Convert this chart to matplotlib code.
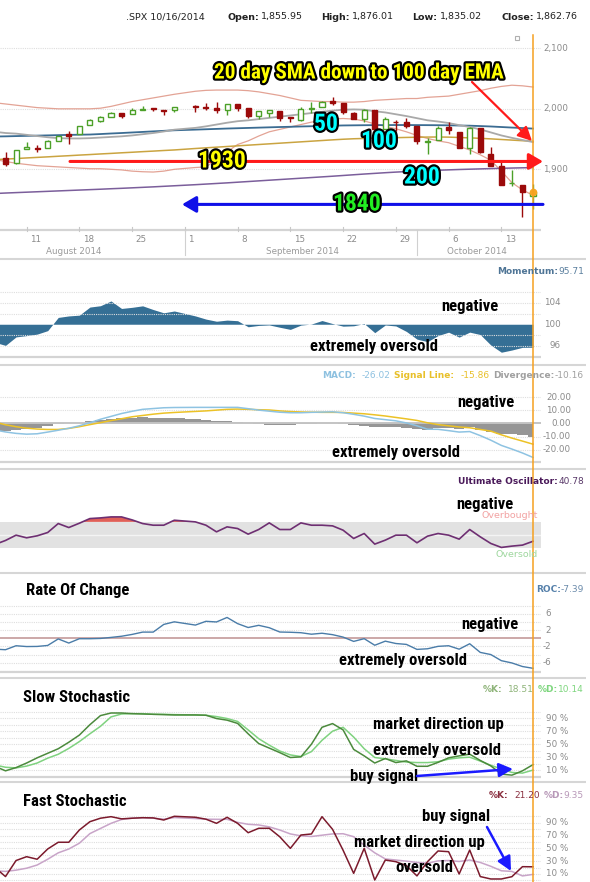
import numpy as np
import matplotlib
matplotlib.use("Agg")
import matplotlib.pyplot as plt
import matplotlib.patheffects as pe
from matplotlib.patches import Rectangle
from matplotlib import font_manager as fm

# ---------------- data ----------------
dates = ['2014-08-06', '2014-08-07', '2014-08-08',
         '2014-08-11', '2014-08-12', '2014-08-13', '2014-08-14', '2014-08-15',
         '2014-08-18', '2014-08-19', '2014-08-20', '2014-08-21', '2014-08-22',
         '2014-08-25', '2014-08-26', '2014-08-27', '2014-08-28', '2014-08-29',
         '2014-09-02', '2014-09-03', '2014-09-04', '2014-09-05',
         '2014-09-08', '2014-09-09', '2014-09-10', '2014-09-11', '2014-09-12',
         '2014-09-15', '2014-09-16', '2014-09-17', '2014-09-18', '2014-09-19',
         '2014-09-22', '2014-09-23', '2014-09-24', '2014-09-25', '2014-09-26',
         '2014-09-29', '2014-09-30', '2014-10-01', '2014-10-02', '2014-10-03',
         '2014-10-06', '2014-10-07', '2014-10-08', '2014-10-09', '2014-10-10',
         '2014-10-13', '2014-10-14', '2014-10-15', '2014-10-16']

opens = [1917.29, 1919.24, 1910.35,
         1933.43, 1935.73, 1935.60, 1947.41, 1958.87,
         1958.36, 1972.73, 1980.46, 1986.82, 1992.60,
         1991.74, 1998.59, 2000.54, 1997.42, 1998.45,
         2004.07, 2003.57, 2001.67, 1998.00,
         2007.17, 2000.73, 1988.41, 1992.85, 1996.74,
         1986.04, 1981.93, 1999.30, 2003.07, 2012.74,
         2009.08, 1992.78, 1983.34, 1997.32, 1966.22,
         1978.96, 1978.21, 1971.44, 1945.83, 1948.12,
         1970.01, 1962.36, 1935.55, 1967.68, 1925.63,
         1905.65, 1877.11, 1874.18, 1855.95]
highs = [1927.91, 1928.89, 1932.38,
         1944.90, 1939.65, 1948.41, 1955.23, 1964.04,
         1971.99, 1982.57, 1988.57, 1994.76, 1993.54,
         2001.95, 2005.04, 2002.14, 1998.55, 2003.38,
         2006.12, 2009.28, 2011.17, 2007.71,
         2007.17, 2001.01, 1996.66, 1997.65, 1996.74,
         1987.18, 2002.28, 2010.74, 2012.34, 2019.26,
         2009.08, 1995.41, 1999.79, 1997.32, 1986.37,
         1981.28, 1985.17, 1971.44, 1952.32, 1971.19,
         1977.84, 1962.36, 1970.36, 1967.68, 1936.98,
         1912.09, 1898.71, 1874.18, 1876.01]
lows = [1911.45, 1904.78, 1909.01,
        1933.43, 1928.29, 1935.60, 1947.41, 1941.50,
        1958.36, 1972.73, 1977.68, 1986.82, 1984.76,
        1991.74, 1998.59, 1996.20, 1990.52, 1994.65,
        1994.85, 1998.14, 1992.44, 1990.10,
        1995.60, 1984.61, 1982.99, 1985.93, 1980.26,
        1978.48, 1979.06, 1993.29, 2003.07, 2006.59,
        1991.01, 1982.77, 1978.63, 1965.99, 1966.22,
        1964.04, 1968.96, 1941.72, 1926.03, 1948.12,
        1958.43, 1934.87, 1925.25, 1927.56, 1906.05,
        1874.14, 1871.79, 1820.66, 1835.02]
closes = [1920.24, 1909.57, 1931.59,
          1936.92, 1933.75, 1946.72, 1955.18, 1955.06,
          1971.74, 1981.60, 1986.51, 1992.37, 1988.40,
          1997.92, 2000.02, 2000.12, 1996.74, 2003.37,
          2002.28, 2000.72, 1997.65, 2007.71,
          2001.54, 1988.44, 1995.69, 1997.45, 1985.54,
          1984.13, 1998.98, 2001.57, 2011.36, 2010.40,
          1994.29, 1982.77, 1998.30, 1965.99, 1982.85,
          1977.80, 1972.29, 1946.16, 1946.17, 1967.90,
          1964.82, 1935.10, 1968.89, 1928.21, 1906.13,
          1874.74, 1877.70, 1862.49, 1862.76]

bb_upper = [2010, 2008, 2006,
            2004, 2002, 2001, 2000, 2000,
            2000, 2000, 2001, 2004, 2008,
            2012, 2015, 2018, 2021, 2024,
            2029, 2030.5, 2031, 2031,
            2031, 2030, 2028, 2025, 2022,
            2018, 2014, 2013, 2012, 2012,
            2011, 2011, 2012, 2014, 2015,
            2016, 2017, 2017, 2019, 2020,
            2021, 2024, 2027, 2030, 2034,
            2037, 2039, 2038, 2036]
bb_lower = [1916, 1913, 1910,
            1908, 1906, 1905, 1904, 1903,
            1902, 1901, 1901, 1900, 1899,
            1897, 1896, 1895.5, 1897, 1900,
            1903, 1904, 1916, 1929,
            1941, 1947, 1955, 1962, 1966,
            1970, 1974, 1978, 1981, 1983,
            1984, 1983, 1980, 1975, 1971,
            1967, 1962, 1956, 1951, 1947,
            1944, 1938, 1932, 1924, 1915,
            1897, 1878, 1866, 1857]
sma20 = [1962, 1960, 1959,
         1957, 1955, 1953, 1951.5, 1951,
         1951, 1951.5, 1952.5, 1953.5, 1954.5,
         1956, 1958, 1960, 1962.5, 1965.5,
         1968.5, 1971, 1974, 1977,
         1979.5, 1981, 1983, 1985, 1987,
         1989, 1991, 1993, 1995, 1997,
         1998.5, 1999, 1998.5, 1996, 1994,
         1991, 1988, 1984.5, 1981, 1979,
         1976.5, 1973, 1970, 1966, 1961,
         1956, 1952, 1948.5, 1945]
ma50 = [1954.2, 1954.5, 1954.9,
        1955.3, 1955.7, 1956.1, 1956.5, 1956.9,
        1957.2, 1957.5, 1958.3, 1959.2, 1960.0,
        1960.9, 1961.8, 1962.7, 1963.6, 1964.5,
        1965.6, 1966.2, 1966.8, 1967.4,
        1967.9, 1968.4, 1968.9, 1969.4, 1969.9,
        1970.3, 1970.8, 1971.2, 1971.7, 1972.1,
        1972.5, 1972.7, 1972.9, 1973.0, 1973.1,
        1973.2, 1973.2, 1973.1, 1973.0, 1972.9,
        1972.7, 1972.4, 1972.1, 1971.5, 1970.8,
        1969.9, 1969.0, 1968.2, 1967.3]
ma100 = [1916.0, 1916.9, 1917.8,
         1918.8, 1919.7, 1920.6, 1921.6, 1922.5,
         1923.5, 1924.4, 1925.4, 1926.3, 1927.3,
         1928.2, 1929.2, 1930.1, 1931.1, 1932.0,
         1934.4, 1935.5, 1936.6, 1937.7,
         1938.8, 1939.9, 1941.0, 1942.1, 1943.2,
         1944.3, 1945.4, 1946.5, 1947.6, 1948.7,
         1949.7, 1950.5, 1951.0, 1951.5, 1951.9,
         1952.3, 1952.7, 1953.0, 1953.3, 1953.4,
         1953.2, 1952.6, 1952.0, 1951.2, 1950.3,
         1949.3, 1948.3, 1947.3, 1946.3]
ma200 = [1860.0, 1860.8, 1861.5,
         1862.2, 1862.9, 1863.6, 1864.3, 1865.0,
         1865.7, 1866.4, 1867.1, 1867.9, 1868.6,
         1869.4, 1870.2, 1871.0, 1871.9, 1872.8,
         1874.6, 1875.6, 1876.6, 1877.6,
         1878.7, 1879.8, 1880.9, 1882.0, 1883.1,
         1884.2, 1885.3, 1886.4, 1887.5, 1888.6,
         1889.8, 1891.0, 1892.2, 1893.3, 1894.4,
         1895.4, 1896.3, 1897.1, 1897.8, 1898.5,
         1899.1, 1899.7, 1900.2, 1900.7, 1901.2,
         1901.7, 1902.1, 1902.5, 1902.8]

momentum = [96.64, 96.06, 97.64,
            97.88, 98.16, 98.81, 101.27, 101.55,
            101.69, 103.20, 103.45, 104.34, 102.94,
            103.15, 103.43, 102.74, 102.13, 102.47,
            101.55, 100.96, 100.56, 100.77,
            100.66, 99.53, 99.78, 99.87, 99.44,
            99.04, 99.84, 100.04, 100.69, 100.13,
            99.64, 99.71, 100.13, 98.43, 99.86,
            99.68, 98.66, 97.23, 96.76, 97.89,
            98.52, 97.60, 98.53, 98.08, 96.13,
            94.79, 95.20, 95.70, 95.71]

macd = [-5.0, -6.5, -7.6,
        -8.2, -7.9, -6.6, -5.2, -3.7,
        -1.8, 0.6, 3.2, 5.4, 7.6,
        9.3, 10.8, 11.4, 12.0, 12.2,
        12.3, 12.3, 12.3, 12.3,
        12.3, 11.3, 10.2, 9.4, 8.6,
        8.2, 8.2, 8.5, 8.7, 8.9,
        8.2, 7.0, 5.6, 3.8, 2.9,
        2.0, 0.4, -1.8, -4.4, -4.5,
        -5.5, -6.6, -6.2, -9.3, -12.8,
        -16.8, -19.6, -22.6, -26.02]
signal_line = [1.0, -1.0, -2.5,
               -3.6, -4.3, -4.6, -4.6, -3.8,
               -2.5, -0.9, 0.6, 2.2, 3.6,
               5.1, 6.1, 7.1, 7.9, 8.4,
               9.2, 9.6, 10.2, 10.8,
               11.0, 10.8, 10.5, 10.3, 9.6,
               9.1, 8.8, 8.6, 8.5, 8.5,
               8.4, 7.9, 7.4, 6.6, 5.7,
               4.6, 3.5, 2.3, 0.5, -0.9,
               -1.8, -2.7, -3.3, -4.6, -5.9,
               -8.7, -11.2, -13.5, -15.86]
divergence = [-6.0, -5.5, -5.1,
              -4.6, -3.6, -2.0, -0.6, 0.1,
              0.7, 1.5, 2.6, 3.2, 4.0,
              4.2, 4.7, 4.3, 4.1, 3.8,
              3.1, 2.7, 2.1, 1.5,
              1.3, 0.5, -0.3, -0.9, -1.0,
              -0.9, -0.6, -0.1, 0.2, 0.4,
              -0.2, -0.9, -1.8, -2.8, -2.8,
              -2.6, -3.1, -4.1, -4.9, -3.6,
              -3.7, -3.9, -2.9, -4.7, -6.9,
              -8.1, -8.4, -9.1, -10.16]

ultimate = [36, 42, 50,
            46, 49, 54, 67.5, 61.5,
            68, 75, 76, 77.5, 77.5,
            73, 67.5, 65, 65, 72.5,
            70, 65, 55, 62.5,
            60, 51.5, 58.5, 68.5, 58.5,
            58.5, 68.5, 65, 65, 64,
            57.5, 45, 52.5, 36.5, 42.5,
            50, 50, 38.5, 48.5, 52.5,
            50, 44, 58.5, 47.5, 37.5,
            31.5, 33.5, 35, 40.78]

roc = [-2.67, -2.81, -1.83,
       -2.03, -2.00, -1.76, -0.15, -1.17,
       -0.10, -0.10, -0.03, 0.22, 0.51,
       0.96, 1.53, 1.53, 3.42, 4.06,
       3.26, 4.19, 4.03, 5.14,
       3.62, 2.66, 3.20, 2.61, 1.55,
       1.49, 1.38, 1.01, 1.25, 0.90,
       0.30, -0.76, -0.09, -1.71, -0.70,
       -1.28, -1.50, -2.73, -2.58, -1.98,
       -1.83, -2.68, -1.34, -3.47, -4.00,
       -5.51, -6.07, -6.95, -7.39]

slow_k = [16, 9, 14,
          21, 29, 36, 43, 53,
          64, 80, 94, 98, 98,
          97, 96.5, 96, 95.5, 95,
          95, 94.6, 89.5, 87,
          82, 66, 51, 44, 37,
          29.5, 30.5, 50, 76, 81.7,
          72, 42, 32, 21, 28,
          21.7, 24.3, 16, 16, 22,
          29, 32, 34.6, 25, 16.6,
          4, 2.3, 9, 18.51]
slow_d = [18, 14.5, 13.5,
          16.3, 21, 28.5, 34.5, 43.5,
          54, 66, 77.5, 92, 96.5,
          97, 97, 96, 96, 95.5,
          95, 94.5, 92.5, 89.5,
          85, 72, 58.5, 48.5, 39.5,
          33.5, 31, 38.6, 56, 70,
          76, 61, 43, 29.5, 27.5,
          25, 22.5, 21.7, 21.7, 23,
          27, 29, 30, 24, 17.5,
          12, 6.5, 5.5, 10.14]
fast_k = [20, 6, 31,
          37, 33, 49, 59.5, 59.5,
          78.6, 91.6, 97, 99.4, 96,
          97, 97.8, 97.5, 94.2, 100,
          98.5, 95.5, 89, 98.5,
          89, 74.4, 81.3, 81.3, 68,
          50, 70.8, 72.4, 99.4, 79.7,
          47, 11, 50, 0.6, 31.8,
          29.2, 23, 7, 29.2, 45.9,
          44.8, 10, 47.4, 6, 2.2,
          2.2, 5.8, 21.4, 21.2]
fast_d = [15, 14, 16,
          19, 24, 33, 43, 49,
          58, 73, 81, 89, 95,
          97, 97.8, 97, 95.5, 98,
          96.5, 95.5, 95.3, 95.3,
          90.5, 87.5, 86.5, 83.5, 78.6,
          72.5, 69.5, 68.5, 70.5, 72.5,
          72.8, 68.2, 55, 43, 33.5,
          31.8, 30, 28, 26.7, 30.5,
          31, 29.5, 31.8, 28, 22,
          15, 14, 7, 9.35]

price_ticks = [2100, 2000, 1900]
price_tick_labels = ['2,100', '2,000', '1,900']
mom_ticks = [104, 100, 96]
macd_ticks = [20, 10, 0, -10, -20]
macd_tick_labels = ['20.00', '10.00', '0.00', '-10.00', '-20.00']
roc_ticks = [6, 2, -2, -6]
stoch_ticks = [90, 70, 50, 30, 10]
day_tick_dates = ['2014-08-11', '2014-08-18', '2014-08-25', '2014-09-01', '2014-09-08',
                  '2014-09-15', '2014-09-22', '2014-09-29', '2014-10-06', '2014-10-13']
day_tick_labels = ['11', '18', '25', '1', '8', '15', '22', '29', '6', '13']
month_start_dates = ['2014-09-01', '2014-10-01']
month_labels = ['August 2014', 'September 2014', 'October 2014']
level_1930 = 1913   # drawn resistance arrow (labelled 1930)
level_1840 = 1842   # drawn support arrow (labelled 1840)

# ---------------- figure ----------------
W, H = 590, 882
fig = plt.figure(figsize=(W / 100, H / 100), dpi=100)
fig.patch.set_facecolor('white')

x = np.busday_count('2014-08-07', dates)
o, h, l, c = map(np.asarray, (opens, highs, lows, closes))

PX_DAY, X_FIRST = 10.55, 5.5
X0, X1 = 0, 541


def panel(top, bottom, ylim):
    ax = fig.add_axes([X0 / W, 1 - bottom / H, (X1 - X0) / W, (bottom - top) / H])
    ax.set_xlim((X0 - X_FIRST) / PX_DAY, (X1 - X_FIRST) / PX_DAY)
    ax.set_ylim(*ylim)
    ax.axis('off')
    return ax


ov = fig.add_axes([0, 0, 1, 1], zorder=10)
ov.set_xlim(0, W)
ov.set_ylim(H, 0)
ov.axis('off')


def ypx(ax, v):
    return H - ax.transData.transform((0, v))[1]


def xpx(ax, v):
    return ax.transData.transform((v, 0))[0]


GRID = dict(color='#dedede', lw=0.8, ls=(0, (1, 1)))
TICK = dict(fontsize=6.3, color='#8a8a8a', family='DejaVu Sans', va='center', ha='right')

# annotation font
avail = {f.name for f in fm.fontManager.ttflist}
ann_family, ann_stretch, ann_scale = 'Liberation Sans', 'normal', 0.84
for cand in ['Liberation Sans Narrow', 'Roboto Condensed', 'Open Sans Condensed']:
    if cand in avail:
        ann_family, ann_scale = cand, 1.0
        break
else:
    if any(f.name == 'DejaVu Sans' and str(f.stretch) == 'condensed' for f in fm.fontManager.ttflist):
        ann_family, ann_stretch, ann_scale = 'DejaVu Sans', 'condensed', 0.86


def note(xc, yc, s, size, color='black', outline=None, ha='center'):
    t = ov.text(xc, yc, s, fontsize=size * ann_scale, fontweight='bold', family=ann_family,
                fontstretch=ann_stretch, color=color, ha=ha, va='center')
    if outline:
        t.set_path_effects([pe.withStroke(linewidth=outline, foreground='black')])
    return t


renderer = fig.canvas.get_renderer()


def pieces_right(xr, y, items, size=6.5):
    xcur = xr
    for s, col, wt, gap in reversed(items):
        t = ov.text(xcur, y, s, color=col, fontweight=wt, fontsize=size, ha='right', va='center',
                    family='DejaVu Sans')
        bb = t.get_window_extent(renderer)
        xcur = xcur - bb.width - gap


def hline(y, xa, xb, color='#d4d4d4', lw=1.6):
    ov.plot([xa, xb], [y, y], color=color, lw=lw, solid_capstyle='butt')


# ---------------- price panel ----------------
axp = panel(35, 230, (1799.7, 2122))
for v in price_ticks:
    axp.axhline(v, **GRID)
axp.plot(x, bb_upper, color='#e3a395', lw=0.9)
axp.plot(x, bb_lower, color='#e3a395', lw=0.9)
axp.plot(x, ma200, color='#7b5e9b', lw=1.1)
axp.plot(x, ma100, color='#caa441', lw=1.1)
axp.plot(x, ma50, color='#3b6c92', lw=1.3)
axp.plot(x, sma20, color='#a9a9a9', lw=1.3)
GREEN, RED = '#4ca028', '#9b0a0a'
for xi, oo, hh, ll, cc in zip(x, o, h, l, c):
    up = cc >= oo
    col = GREEN if up else RED
    axp.vlines(xi, ll, hh, color=col, lw=1.0, zorder=3)
    bot = min(oo, cc)
    ht = max(abs(cc - oo), 0.9)
    axp.add_patch(Rectangle((xi - 0.24, bot), 0.48, ht, facecolor='white' if up else col,
                            edgecolor=col, lw=1.0, zorder=4))
axp.plot([x[-1]], [c[-1]], 'o', color='#f5a623', ms=4.5, zorder=6)

for v, s in zip(price_ticks, price_tick_labels):
    ov.text(568, ypx(axp, v), s, **TICK)
hline(230, 0, 541)
for d, s in zip(day_tick_dates, day_tick_labels):
    xp = xpx(axp, np.busday_count('2014-08-07', d))
    ov.plot([xp, xp], [227, 231], color='#c8c8c8', lw=0.8)
    ov.text(xp + 3.5, 240, s, fontsize=6.3, color='#8a8a8a', family='DejaVu Sans', ha='left', va='center')
for d in month_start_dates:
    xp = xpx(axp, np.busday_count('2014-08-07', d))
    ov.plot([xp, xp], [230, 255], color='#d0d0d0', lw=0.8)
for xc, s in zip([74, 302, 477], month_labels):
    ov.text(xc, 252, s, fontsize=6.3, color='#9a9a9a', family='DejaVu Sans', ha='center', va='center')

# header
hdr = [(126, '.SPX 10/16/2014', 'normal'), (228, 'Open:', 'bold'), (261, '1,855.95', 'normal'),
       (321, 'High:', 'bold'), (352, '1,876.01', 'normal'), (412, 'Low:', 'bold'),
       (440, '1,835.02', 'normal'), (501, 'Close:', 'bold'), (536, '1,862.76', 'normal')]
for xh, s, wt in hdr:
    ov.text(xh, 17, s, fontsize=6.8, fontweight=wt, color='#222222', family='DejaVu Sans',
            ha='left', va='center')
ov.plot([517], [38], 's', ms=3.5, mfc='none', mec='#b0b0b0', mew=0.8)

# price annotations
y1930 = ypx(axp, level_1930)
y1840 = ypx(axp, level_1840)
ov.annotate('', xy=(543, y1930), xytext=(70, y1930),
            arrowprops=dict(arrowstyle='-|>,head_length=0.6,head_width=0.35', color='#ff1a1a', lw=2.2,
                            shrinkA=0, shrinkB=0, mutation_scale=14))
ov.annotate('', xy=(182, y1840), xytext=(543, y1840),
            arrowprops=dict(arrowstyle='-|>,head_length=0.6,head_width=0.35', color='#1010e8', lw=2.2,
                            shrinkA=0, shrinkB=0, mutation_scale=14))
ov.annotate('', xy=(532, 141), xytext=(472, 82),
            arrowprops=dict(arrowstyle='-|>,head_length=0.6,head_width=0.3', color='#ff1a1a', lw=1.6,
                            shrinkA=0, shrinkB=0, mutation_scale=14))
note(359, 73, '20 day SMA down to 100 day EMA', 15.3, color='#ffff00', outline=3.2)
note(326, 124, '50', 17, color='#00ffff', outline=3.2)
note(379, 141, '100', 17, color='#00ffff', outline=3.2)
note(222, 161, '1930', 17, color='#ffff00', outline=3.2)
note(422, 177, '200', 17, color='#00ffff', outline=3.2)
note(357, 204, '1840', 17, color='#22ee22', outline=3.2)

# ---------------- momentum ----------------
axm = panel(288, 357, (93.9, 106.75))
for v in [96, 98, 102, 104, 106]:
    axm.axhline(v, **GRID)
axm.fill_between(x, 100, momentum, color='#356f95', lw=0)
for v in mom_ticks:
    ov.text(561, ypx(axm, v), str(v), **TICK)
hline(357, 0, 541)
pieces_right(584, 272, [('Momentum:', '#4f7596', 'bold', 4), ('95.71', '#5a7f9e', 'normal', 0)])
note(470, 307, 'negative', 12)
note(374, 346, 'extremely oversold', 12)

# ---------------- MACD ----------------
axc = panel(393, 462, (-29.5, 23.3))
for v in [20, 10, -10, -20]:
    axc.axhline(v, **GRID)
axc.axhline(0, color='#c4c4c4', lw=1.4)
axc.fill_between(x, 0, divergence, step='mid', color='#969696', lw=0)
axc.plot(x, signal_line, color='#ecc226', lw=1.1)
axc.plot(x, macd, color='#8ec3e2', lw=1.1)
for v, s in zip(macd_ticks, macd_tick_labels):
    ov.text(571, ypx(axc, v), s, **TICK)
hline(462, 0, 541)
pieces_right(584, 376, [('MACD:', '#8ec1e0', 'bold', 4), ('-26.02', '#8ec1e0', 'normal', 6),
                        ('Signal Line:', '#e8c02a', 'bold', 4), ('-15.86', '#e8c02a', 'normal', 6),
                        ('Divergence:', '#a0a0a0', 'bold', 4), ('-10.16', '#a0a0a0', 'normal', 0)])
note(486, 403, 'negative', 12)
note(396, 453, 'extremely oversold', 12)

# ---------------- Ultimate oscillator ----------------
axu = panel(498, 571, (-4, 106))
axu.axhspan(30, 70, color='#e2e2e2', lw=0)
axu.axhline(50, color='#f4f4f4', lw=1.0)
uo = np.asarray(ultimate)
axu.fill_between(x, 70, uo, where=uo > 70, interpolate=True, color='#e06058', lw=0)
axu.plot(x, uo, color='#6e2f72', lw=1.2)
ov.text(538, ypx(axu, 70) - 6, 'Overbought', fontsize=6.8, color='#f2a2a2', family='DejaVu Sans',
        ha='right', va='center')
ov.text(538, ypx(axu, 30) + 6, 'Oversold', fontsize=6.8, color='#9ed79e', family='DejaVu Sans',
        ha='right', va='center')
pieces_right(584, 481, [('Ultimate Oscillator:', '#4a1a5a', 'bold', 4), ('40.78', '#5a3a6a', 'normal', 0)])
note(485, 504, 'negative', 12)

# ---------------- ROC ----------------
axr = panel(603, 672, (-8.3, 8.7))
for v in [8, 6, 4, 2, -2, -4, -6, -8]:
    axr.axhline(v, **GRID)
axr.axhline(0, color='#c49a9a', lw=1.2)
axr.plot(x, roc, color='#4a7ca8', lw=1.0)
for v in roc_ticks:
    ov.text(551, ypx(axr, v), str(v), **TICK)
hline(672, 0, 541)
pieces_right(584, 590, [('ROC:', '#5580aa', 'bold', 5), ('-7.39', '#6a8aaa', 'normal', 0)])
note(26, 590, 'Rate Of Change', 12, ha='left')
note(490, 624, 'negative', 12)
note(403, 661, 'extremely oversold', 12)

# ---------------- Slow stochastic ----------------
axs = panel(708, 777, (-0.5, 105.7))
for v in range(0, 101, 10):
    axs.axhline(v, **GRID)
axs.plot(x, slow_d, color='#7fd27f', lw=1.1)
axs.plot(x, slow_k, color='#4b8a3c', lw=1.1)
for v in stoch_ticks:
    ov.text(568, ypx(axs, v), f'{v} %', **TICK)
hline(777, 0, 541)
pieces_right(584, 690, [('%K:', '#8fb47a', 'bold', 4), ('18.51', '#8fb47a', 'normal', 6),
                        ('%D:', '#7fd67f', 'bold', 4), ('10.14', '#7fd67f', 'normal', 0)])
note(23, 697, 'Slow Stochastic', 12, ha='left')
note(438, 725, 'market direction up', 12)
note(437, 750, 'extremely oversold', 12)
note(384, 776, 'buy signal', 12)
ov.annotate('', xy=(513, 769), xytext=(417, 776),
            arrowprops=dict(arrowstyle='-|>,head_length=0.6,head_width=0.3', color='#1a1aff', lw=1.8,
                            shrinkA=0, shrinkB=0, mutation_scale=14))

# ---------------- Fast stochastic ----------------
axf = panel(812, 882, (-2.5, 106.7))
for v in range(0, 101, 10):
    axf.axhline(v, **GRID)
axf.plot(x, fast_d, color='#c8a4c8', lw=1.1)
axf.plot(x, fast_k, color='#7b1a2c', lw=1.1)
for v in stoch_ticks:
    ov.text(568, ypx(axf, v), f'{v} %', **TICK)
pieces_right(584, 795, [('%K:', '#8a3040', 'bold', 4), ('21.20', '#8a3040', 'normal', 6),
                        ('%D:', '#b898b8', 'bold', 4), ('9.35', '#b898b8', 'normal', 0)])
note(23, 801, 'Fast Stochastic', 12, ha='left')
note(456, 817, 'buy signal', 12)
note(419, 842, 'market direction up', 12)
note(424, 867, 'oversold', 12)
ov.annotate('', xy=(511, 871), xytext=(487, 827),
            arrowprops=dict(arrowstyle='-|>,head_length=0.6,head_width=0.3', color='#1a1aff', lw=1.8,
                            shrinkA=0, shrinkB=0, mutation_scale=14))

# ---------------- separators & orange cursor ----------------
for ys in [259, 364.5, 468.5, 573, 678, 782]:
    hline(ys, 0, 586, color='#d6d6d6', lw=1.5)
xo = xpx(axp, x[-1])
ov.plot([xo, xo], [35, H], color='#f5a020', lw=1.1)

fig.savefig('out.png', dpi=100, facecolor='white')
